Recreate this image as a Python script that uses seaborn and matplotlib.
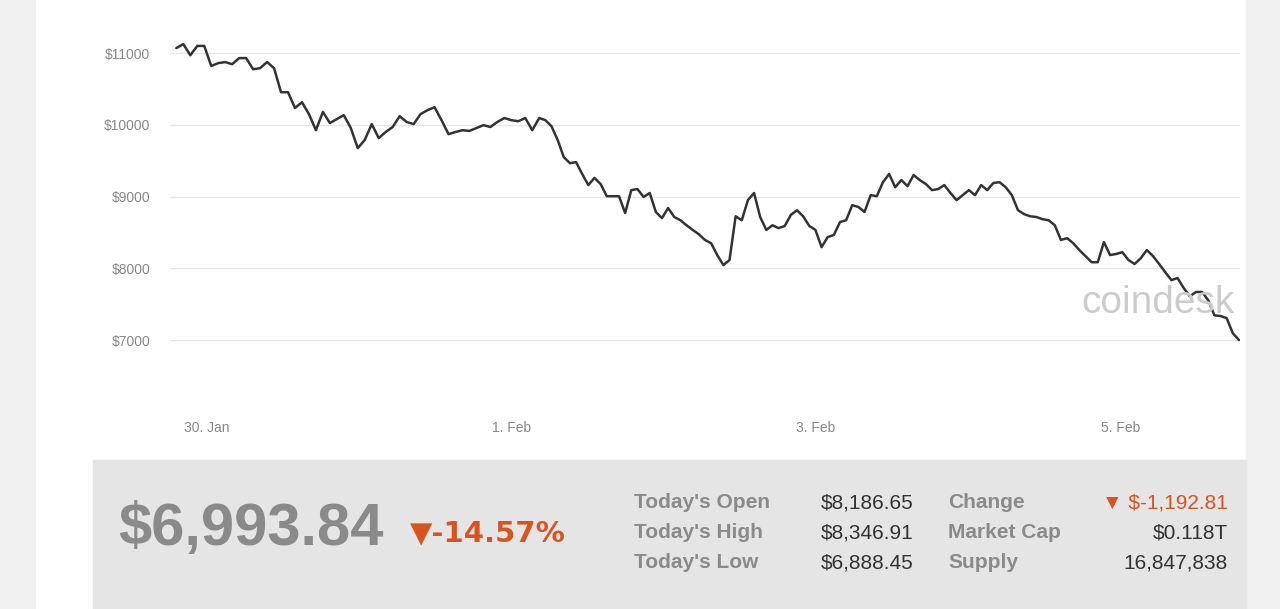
import pandas as pd
import numpy as np
import matplotlib
matplotlib.use("Agg")
import matplotlib.pyplot as plt
import seaborn as sns
from matplotlib.patches import Rectangle

# price series (USD), roughly hourly
prices = [11070, 11125, 10970, 11100, 11100, 10820, 10860, 10875, 10845, 10930, 10930,
          10775, 10790, 10875, 10790, 10455, 10455, 10235, 10315, 10150, 9925, 10180,
          10025, 10080, 10135, 9955, 9675, 9790, 10010, 9815, 9900, 9970, 10120, 10040,
          10010, 10150, 10205, 10245, 10065, 9870, 9900, 9925, 9915, 9955, 9995, 9970,
          10040, 10095, 10065, 10050, 10095, 9925, 10095, 10065, 9980, 9790, 9550, 9465,
          9480, 9315, 9160, 9260, 9175, 9005, 9005, 9005, 8770, 9090, 9105, 8995, 9050,
          8785, 8700, 8840, 8715, 8670, 8600, 8535, 8475, 8395, 8350, 8185, 8045, 8115,
          8725, 8670, 8950, 9050, 8715, 8535, 8600, 8560, 8590, 8745, 8810, 8725, 8590,
          8535, 8295, 8435, 8465, 8645, 8670, 8880, 8855, 8785, 9020, 9005, 9200, 9315,
          9130, 9230, 9145, 9300, 9230, 9175, 9090, 9105, 9160, 9050, 8950, 9020, 9090,
          9020, 9160, 9090, 9190, 9200, 9130, 9020, 8810, 8755, 8725, 8715, 8685, 8670,
          8600, 8395, 8420, 8350, 8255, 8170, 8085, 8085, 8365, 8185, 8200, 8225, 8115,
          8060, 8140, 8255, 8170, 8060, 7945, 7835, 7865, 7725, 7610, 7670, 7670, 7555,
          7345, 7335, 7305, 7095, 7000]
start_time = "2018-01-29 19:17"
mid_time = "2018-02-01 04:25"   # time of point 52
mid_index = 52
end_time = "2018-02-05 18:35"
y_ticks = [7000, 8000, 9000, 10000, 11000]
x_ticks = ["2018-01-30", "2018-02-01", "2018-02-03", "2018-02-05"]
x_tick_labels = ["30. Jan", "1. Feb", "3. Feb", "5. Feb"]

price = "$6,993.84"
pct = "\u25bc-14.57%"
stats_left = [("Today's Open", "$8,186.65"), ("Today's High", "$8,346.91"), ("Today's Low", "$6,888.45")]
stats_right = [("Change", "\u25bc $-1,192.81"), ("Market Cap", "$0.118T"), ("Supply", "16,847,838")]

times = pd.date_range(start_time, mid_time, periods=mid_index + 1).append(
    pd.date_range(mid_time, end_time, periods=len(prices) - mid_index)[1:])
df = pd.DataFrame({"time": times, "price": prices})

sns.set_style("white")
plt.rcParams['font.family'] = ['Liberation Sans', 'DejaVu Sans']

fig = plt.figure(figsize=(12.8, 6.09), dpi=100)
fig.patch.set_facecolor("white")
W, H = 1280, 609
fig.patches.append(Rectangle((0, 0), 35 / W, 1, transform=fig.transFigure, color="#f0f0f0", zorder=0))
fig.patches.append(Rectangle((1246 / W, 0), 34 / W, 1, transform=fig.transFigure, color="#f0f0f0", zorder=0))
fig.patches.append(Rectangle((93 / W, 0), 1153 / W, 149 / H, transform=fig.transFigure, color="#e5e5e5", zorder=0))

ax = fig.add_axes([170 / W, 1 - 410 / H, 1070 / W, 410 / H])
sns.lineplot(data=df, x="time", y="price", ax=ax, color="#333333", linewidth=1.8)
ax.set_ylim(6025, 11740)
ax.set_xlim(df["time"].iloc[0] - pd.Timedelta(hours=1), df["time"].iloc[-1] + pd.Timedelta(minutes=10))
ax.set_yticks(y_ticks)
ax.set_yticklabels([f"${v}" for v in y_ticks], color="#888888", fontsize=10)
ax.set_xticks(pd.to_datetime(x_ticks))
ax.set_xticklabels(x_tick_labels, color="#888888", fontsize=10)
ax.tick_params(axis="y", length=0, pad=14)
ax.tick_params(axis="x", length=8, width=0.8, color="#cccccc", direction="in", pad=8)
ax.grid(axis="y", color="#e6e6e6", linewidth=1)
for s in ax.spines.values():
    s.set_visible(False)
ax.set_xlabel("")
ax.set_ylabel("")
ax.text(0.995, 0.26, "coindesk", transform=ax.transAxes, ha="right", va="center",
        fontsize=28, color="#cccccc")

fig.text(118 / W, 1 - 530 / H, price, fontsize=43, fontweight="bold", color="#8a8a8a", va="center")
fig.text(410 / W, 1 - 533 / H, pct, fontsize=21, fontweight="bold", color="#d9531e", va="center",
         family=['DejaVu Sans'])
for i, (k, v) in enumerate(stats_left):
    y = 1 - (503 + 30 * i) / H
    fig.text(634 / W, y, k, fontsize=15, fontweight="bold", color="#8a8a8a", va="center")
    fig.text(914 / W, y, v, fontsize=15, color="#333333", va="center", ha="right")
for i, (k, v) in enumerate(stats_right):
    y = 1 - (503 + 30 * i) / H
    fig.text(948 / W, y, k, fontsize=15, fontweight="bold", color="#8a8a8a", va="center")
    fig.text(1228 / W, y, v, fontsize=15, va="center", ha="right",
             color="#d9531e" if i == 0 else "#333333")

fig.savefig("out.png", dpi=100)
